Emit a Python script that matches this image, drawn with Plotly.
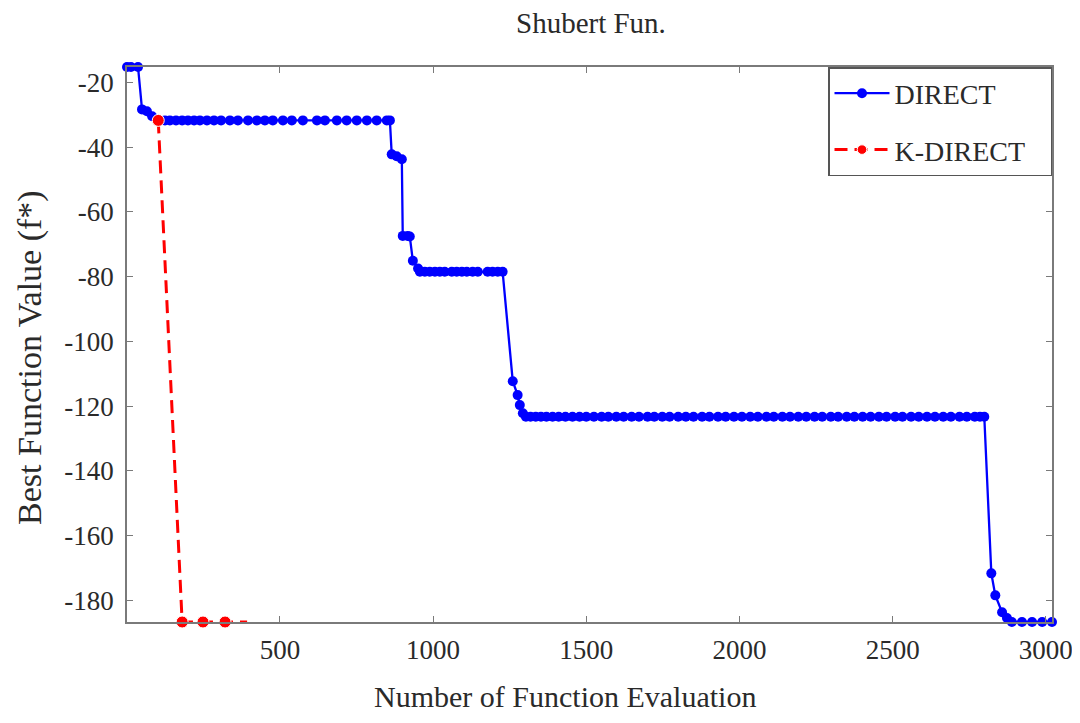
import plotly.graph_objects as go

# ---- data ----
direct_x = [1, 14, 37, 50, 66, 83, 99,
            109, 125, 141, 161, 181, 200, 220, 239, 262, 285, 308, 337, 363, 396,
            425, 451, 477, 510, 539, 575, 621, 647, 686, 718, 751, 784, 816, 849, 859,
            865, 881, 898, 901, 917, 924, 934, 951,
            957, 973, 989, 1006, 1022, 1038, 1061, 1077, 1094, 1110, 1129, 1146, 1178, 1194, 1211, 1227,
            1260, 1276, 1283, 1293,
            1303, 1318, 1335, 1352, 1370, 1390, 1410, 1432, 1455, 1478, 1500, 1525, 1550, 1572,
            1598, 1622, 1648, 1672, 1700, 1722, 1748, 1772, 1800, 1825, 1850, 1878, 1902, 1930,
            1955, 1982, 2008, 2035, 2060, 2088, 2112, 2140, 2165, 2192, 2218, 2245, 2270, 2298,
            2322, 2350, 2375, 2402, 2428, 2455, 2480, 2508, 2532, 2560, 2585, 2612, 2638, 2665,
            2690, 2718, 2742, 2768, 2785, 2799,
            2822, 2835, 2857, 2873, 2889, 2922, 2955, 2988, 3020]

direct_y = [-15.2, -15.2, -15.2, -28.3, -28.9, -30.4, -31.4,
            -31.7, -31.7, -31.7, -31.7, -31.7, -31.7, -31.7, -31.7, -31.7, -31.7, -31.7, -31.7, -31.7, -31.7,
            -31.7, -31.7, -31.7, -31.7, -31.7, -31.7, -31.7, -31.7, -31.7, -31.7, -31.7, -31.7, -31.7, -31.7, -31.7,
            -42.2, -42.8, -43.7, -67.4, -67.4, -67.6, -75.1, -77.5,
            -78.5, -78.5, -78.5, -78.5, -78.5, -78.5, -78.5, -78.5, -78.5, -78.5, -78.5, -78.5, -78.5, -78.5, -78.5, -78.5,
            -112.3, -116.6, -119.7, -122.2,
            -123.3, -123.3, -123.3, -123.3, -123.3, -123.3, -123.3, -123.3, -123.3, -123.3, -123.3, -123.3, -123.3, -123.3,
            -123.3, -123.3, -123.3, -123.3, -123.3, -123.3, -123.3, -123.3, -123.3, -123.3, -123.3, -123.3, -123.3, -123.3,
            -123.3, -123.3, -123.3, -123.3, -123.3, -123.3, -123.3, -123.3, -123.3, -123.3, -123.3, -123.3, -123.3, -123.3,
            -123.3, -123.3, -123.3, -123.3, -123.3, -123.3, -123.3, -123.3, -123.3, -123.3, -123.3, -123.3, -123.3, -123.3,
            -123.3, -123.3, -123.3, -123.3, -123.3, -123.3,
            -171.7, -178.5, -183.7, -185.5, -186.73, -186.73, -186.73, -186.73, -186.73]

kdirect_x = [103, 181, 249, 321, 393]
kdirect_y = [-31.7, -186.73, -186.73, -186.73, -186.73]
kdirect_marker = [12, 12, 12, 12, 0]

x_ticks = [500, 1000, 1500, 2000, 2500, 3000]
x_tick_labels = ["500", "1000", "1500", "2000", "2500", "3000"]
y_ticks = [-180, -160, -140, -120, -100, -80, -60, -40, -20]
y_tick_labels = ["-180", "-160", "-140", "-120", "-100", "-80", "-60", "-40", "-20"]

FONT = "Liberation Serif"
TXT = "#2a2a2a"
AX = "#7a7a7a"

fig = go.Figure()
fig.add_trace(go.Scatter(
    x=direct_x, y=direct_y, name="DIRECT\u00a0\u00a0\u00a0\u00a0\u00a0\u00a0\u00a0", mode="lines+markers",
    line=dict(color="#0000ff", width=2.3),
    marker=dict(color="#0000ff", size=10, symbol="circle", opacity=1),
    cliponaxis=False, legendgroup="a",
))
fig.add_trace(go.Scatter(
    x=kdirect_x, y=kdirect_y, name="K-DIRECT\u00a0\u00a0", mode="lines+markers",
    line=dict(color="#ff0000", width=3, dash="13px,7px"),
    marker=dict(color="#ff0000", size=kdirect_marker, symbol="circle", opacity=1),
    cliponaxis=False, legendgroup="b",
))

fig.update_layout(
    width=1072, height=707,
    paper_bgcolor="white", plot_bgcolor="white",
    margin=dict(l=119, r=28, t=59, b=93, autoexpand=False),
    font=dict(family=FONT, color=TXT, size=27),
    title=dict(text="Shubert Fun.", x=0.5438, xanchor="center", y=0.979, yanchor="middle",
               font=dict(family=FONT, size=29, color=TXT)),
    showlegend=True,
    legend=dict(x=1, y=1, xanchor="right", yanchor="top",
                bordercolor="#555555", borderwidth=1.5, bgcolor="white",
                font=dict(family=FONT, size=28, color=TXT),
                itemwidth=55, tracegroupgap=17, traceorder="grouped"),
    annotations=[
        dict(text="Number of Function Evaluation", xref="paper", yref="paper",
             x=0.4735, y=-0.135, xanchor="center", yanchor="middle", showarrow=False,
             font=dict(family=FONT, size=30, color=TXT)),
        dict(text="Best Function Value (f*)", xref="paper", yref="paper",
             x=-0.1049, y=0.4775, xanchor="center", yanchor="middle", showarrow=False,
             textangle=-90, font=dict(family=FONT, size=34, color=TXT)),
    ],
)
fig.update_xaxes(
    range=[1, 3020], tickvals=x_ticks, ticktext=x_tick_labels, ticks="inside", ticklen=6, tickcolor=AX,
    showline=True, linecolor=AX, linewidth=1.5, mirror="ticks", showgrid=False, zeroline=False,
    tickfont=dict(family=FONT, size=27, color=TXT), ticklabelstandoff=3, automargin=False,
)
fig.update_yaxes(
    range=[-186.73, -15.2], tickvals=y_ticks, ticktext=y_tick_labels, ticks="inside", ticklen=6, tickcolor=AX,
    showline=True, linecolor=AX, linewidth=1.5, mirror="ticks", showgrid=False, zeroline=False,
    tickfont=dict(family=FONT, size=27, color=TXT), ticklabelstandoff=6, automargin=False,
)

fig.write_html("out.html")
